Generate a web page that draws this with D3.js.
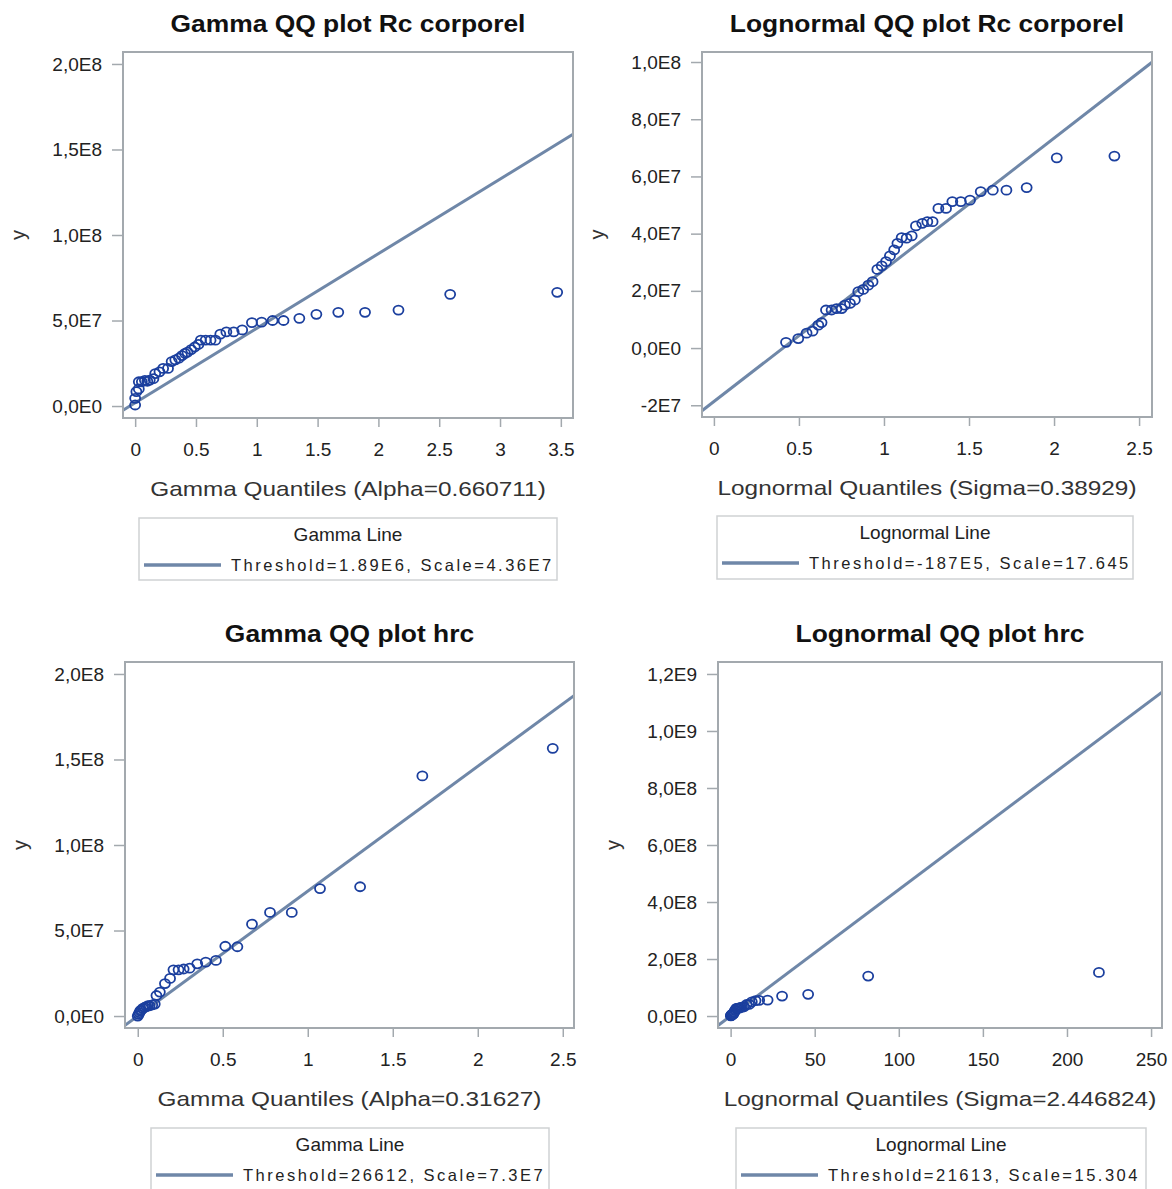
<!DOCTYPE html>
<html>
<head>
<meta charset="utf-8">
<script src="https://cdn.jsdelivr.net/npm/d3@7"></script>
<style>
  body { margin: 0; background: #fff; }
  text { font-family: "Liberation Sans", Arial, sans-serif; fill: #222; }
</style>
</head>
<body>
<svg id="chart" width="1172" height="1189"></svg>
<script>
// --- data (y values in E7 units) ---
const gammaRcQ = [0.00, 0.00, 0.01, 0.03, 0.03, 0.055, 0.08, 0.10, 0.12, 0.15, 0.165, 0.20, 0.23, 0.27, 0.30, 0.33, 0.36, 0.385, 0.41, 0.43, 0.46, 0.49, 0.52, 0.54, 0.58, 0.62, 0.66, 0.70, 0.75, 0.81, 0.88, 0.96, 1.04, 1.13, 1.22, 1.35, 1.49, 1.67, 1.89, 2.165, 2.59, 3.47];
const gammaRcY = [0.06, 0.45, 0.84, 1.00, 1.42, 1.42, 1.50, 1.45, 1.52, 1.60, 1.90, 2.00, 2.20, 2.20, 2.60, 2.70, 2.80, 2.95, 3.08, 3.15, 3.30, 3.45, 3.60, 3.85, 3.85, 3.85, 3.85, 4.20, 4.33, 4.33, 4.45, 4.88, 4.90, 5.00, 5.00, 5.13, 5.36, 5.48, 5.48, 5.61, 6.53, 6.65];

const lognRcQ = [0.424, 0.496, 0.545, 0.58, 0.614, 0.633, 0.659, 0.692, 0.721, 0.751, 0.77, 0.80, 0.829, 0.849, 0.878, 0.908, 0.933, 0.961, 0.987, 1.012, 1.035, 1.06, 1.079, 1.104, 1.133, 1.163, 1.188, 1.225, 1.255, 1.286, 1.32, 1.365, 1.402, 1.452, 1.506, 1.569, 1.64, 1.72, 1.839, 2.016, 2.355];
const lognRcY = [0.20, 0.33, 0.52, 0.59, 0.80, 0.89, 1.33, 1.33, 1.38, 1.38, 1.50, 1.56, 1.68, 1.97, 2.05, 2.20, 2.32, 2.75, 2.87, 3.02, 3.22, 3.43, 3.66, 3.86, 3.84, 3.92, 4.27, 4.36, 4.42, 4.42, 4.88, 4.88, 5.12, 5.12, 5.17, 5.47, 5.52, 5.52, 5.61, 6.65, 6.71];

const gammaHrcQ = [0.00, 0.005, 0.01, 0.015, 0.02, 0.03, 0.04, 0.05, 0.06, 0.07, 0.085, 0.10, 0.11, 0.13, 0.16, 0.19, 0.21, 0.24, 0.27, 0.305, 0.35, 0.40, 0.46, 0.515, 0.586, 0.672, 0.778, 0.906, 1.072, 1.308, 1.674, 2.441];
const gammaHrcY = [0.00, 0.10, 0.20, 0.30, 0.35, 0.45, 0.50, 0.55, 0.60, 0.60, 0.65, 0.70, 1.20, 1.40, 1.90, 2.20, 2.70, 2.70, 2.75, 2.80, 3.05, 3.15, 3.25, 4.08, 4.05, 5.37, 6.06, 6.06, 7.45, 7.56, 14.04, 15.65];

const lognHrcQ = [0.15, 0.3, 0.45, 0.6, 0.8, 1.0, 1.2, 1.4, 1.6, 1.9, 2.2, 2.6, 3.0, 3.4, 3.9, 4.5, 5.1, 5.9, 6.8, 8.0, 9.5, 11.0, 12.6, 14.8, 17.0, 22.0, 30.6, 46.1, 81.8, 219];
const lognHrcY = [0.05, 0.15, 0.30, 0.45, 0.50, 0.60, 0.65, 0.70, 0.75, 1.20, 1.40, 1.90, 2.20, 2.70, 2.70, 2.75, 2.80, 3.05, 3.15, 3.25, 4.05, 4.08, 5.00, 5.40, 5.50, 5.60, 7.00, 7.60, 14.00, 15.30];

// tick values and labels
const ticksY200 = [0, 5e7, 1e8, 1.5e8, 2e8];
const labelsY200 = ["0,0E0", "5,0E7", "1,0E8", "1,5E8", "2,0E8"];
const ticksY100 = [-2e7, 0, 2e7, 4e7, 6e7, 8e7, 1e8];
const labelsY100 = ["-2E7", "0,0E0", "2,0E7", "4,0E7", "6,0E7", "8,0E7", "1,0E8"];
const ticksY1200 = [0, 2e8, 4e8, 6e8, 8e8, 1e9, 1.2e9];
const labelsY1200 = ["0,0E0", "2,0E8", "4,0E8", "6,0E8", "8,0E8", "1,0E9", "1,2E9"];
const ticksX35 = [0, 0.5, 1, 1.5, 2, 2.5, 3, 3.5];
const ticksX25 = [0, 0.5, 1, 1.5, 2, 2.5];
const ticksX250 = [0, 50, 100, 150, 200, 250];

// fitted reference lines
const gammaRcLine = { threshold: 1.89e6, scale: 4.36e7 };
const lognRcLine = { threshold: -1.87e7, scale: Math.exp(17.645) };
const gammaHrcLine = { threshold: 26612, scale: 7.3e7 };
const lognHrcLine = { threshold: 21613, scale: Math.exp(15.304) };

const titles = ["Gamma QQ plot Rc corporel", "Lognormal QQ plot Rc corporel", "Gamma QQ plot hrc", "Lognormal QQ plot hrc"];
const xLabels = ["Gamma Quantiles (Alpha=0.660711)", "Lognormal Quantiles (Sigma=0.38929)", "Gamma Quantiles (Alpha=0.31627)", "Lognormal Quantiles (Sigma=2.446824)"];
const legendTitles = ["Gamma Line", "Lognormal Line", "Gamma Line", "Lognormal Line"];
const legendTexts = ["Threshold=1.89E6, Scale=4.36E7", "Threshold=-187E5, Scale=17.645", "Threshold=26612, Scale=7.3E7", "Threshold=21613, Scale=15.304"];

const lineColor = "#6f87a8";
const markColor = "#1b3f9e";
const frameColor = "#a3a9ae";
const fontFam = "'Liberation Sans', Arial, sans-serif";

const panels = [
  { xs: gammaRcQ, ys: gammaRcY, line: gammaRcLine, box: [123, 573, 52, 418], xDom: [-0.1, 3.6], yDom: [-7e6, 2.07e8],
    xTicks: ticksX35, yTicks: ticksY200, yLabels: labelsY200, legend: [139, 557, 518, 580] },
  { xs: lognRcQ, ys: lognRcY, line: lognRcLine, box: [702, 1152, 52, 417], xDom: [-0.07, 2.576], yDom: [-2.41e7, 1.035e8],
    xTicks: ticksX25, yTicks: ticksY100, yLabels: labelsY100, legend: [717, 1133, 516, 579] },
  { xs: gammaHrcQ, ys: gammaHrcY, line: gammaHrcLine, box: [125, 574, 662, 1028], xDom: [-0.075, 2.566], yDom: [-7e6, 2.07e8],
    xTicks: ticksX25, yTicks: ticksY200, yLabels: labelsY200, legend: [151, 549, 1128, 1190] },
  { xs: lognHrcQ, ys: lognHrcY, line: lognHrcLine, box: [718, 1162, 662, 1028], xDom: [-7.5, 256.5], yDom: [-4.2e7, 1.242e9],
    xTicks: ticksX250, yTicks: ticksY1200, yLabels: labelsY1200, legend: [736, 1146, 1128, 1190] }
];

const svg = d3.select("#chart");

// text drawn a little wider than the font, like the SAS output
function wideText(parent, x, y, sx, str) {
  return parent.append("text")
    .attr("transform", `translate(${x},${y}) scale(${sx},1)`)
    .attr("text-anchor", "middle")
    .text(str);
}

panels.forEach((p, i) => {
  const [x0, x1, y0, y1] = p.box;
  const x = d3.scaleLinear().domain(p.xDom).range([x0, x1]);
  const y = d3.scaleLinear().domain(p.yDom).range([y1, y0]);
  const g = svg.append("g");
  const midX = (x0 + x1) / 2;

  // title
  wideText(g, midX, y0 - 20, 1.1, titles[i])
    .style("font-size", "24px").style("font-weight", "bold").style("fill", "#111");

  g.append("clipPath").attr("id", "clip" + i)
    .append("rect").attr("x", x0).attr("y", y0).attr("width", x1 - x0).attr("height", y1 - y0);

  const plot = g.append("g").attr("clip-path", `url(#clip${i})`);

  // reference line
  const f = v => p.line.threshold + p.line.scale * v;
  plot.append("line")
    .attr("x1", x(p.xDom[0])).attr("y1", y(f(p.xDom[0])))
    .attr("x2", x(p.xDom[1])).attr("y2", y(f(p.xDom[1])))
    .attr("stroke", lineColor).attr("stroke-width", 3);

  // points
  plot.selectAll("ellipse")
    .data(p.xs.map((v, k) => [v, p.ys[k] * 1e7]))
    .join("ellipse")
    .attr("cx", d => x(d[0])).attr("cy", d => y(d[1]))
    .attr("rx", 5).attr("ry", 4.5)
    .attr("fill", "none").attr("stroke", markColor).attr("stroke-width", 1.8);

  // frame
  g.append("rect")
    .attr("x", x0).attr("y", y0).attr("width", x1 - x0).attr("height", y1 - y0)
    .attr("fill", "none").attr("stroke", frameColor).attr("stroke-width", 2);

  // y axis
  const yAxis = d3.axisLeft(y).tickValues(p.yTicks)
    .tickFormat((d, k) => p.yLabels[k]).tickSize(11).tickPadding(10);
  const ya = g.append("g").attr("transform", `translate(${x0},0)`).call(yAxis);
  ya.select(".domain").remove();
  ya.selectAll("line").attr("stroke", frameColor).attr("stroke-width", 1.5);
  ya.selectAll("text").style("font-size", "19px").attr("fill", "#333").style("font-family", fontFam);

  // x axis
  const xAxis = d3.axisBottom(x).tickValues(p.xTicks)
    .tickFormat(d3.format("")).tickSize(9).tickPadding(16);
  const xa = g.append("g").attr("transform", `translate(0,${y1})`).call(xAxis);
  xa.select(".domain").remove();
  xa.selectAll("line").attr("stroke", frameColor).attr("stroke-width", 1.5);
  xa.selectAll("text").style("font-size", "19px").attr("fill", "#333").style("font-family", fontFam);

  // axis labels
  wideText(g, midX, y1 + 78, 1.16, xLabels[i])
    .style("font-size", "21px").style("fill", "#333");
  g.append("text")
    .attr("transform", `translate(${x0 - 98},${(y0 + y1) / 2}) rotate(-90)`)
    .attr("text-anchor", "middle")
    .style("font-size", "20px").style("fill", "#333")
    .text("y");

  // legend
  const [lx0, lx1, ly0, ly1] = p.legend;
  g.append("rect")
    .attr("x", lx0).attr("y", ly0).attr("width", lx1 - lx0).attr("height", ly1 - ly0)
    .attr("fill", "none").attr("stroke", "#cfd2d4").attr("stroke-width", 1.5);
  g.append("text")
    .attr("x", (lx0 + lx1) / 2).attr("y", ly0 + 23)
    .attr("text-anchor", "middle")
    .style("font-size", "19px").style("fill", "#222")
    .text(legendTitles[i]);
  g.append("line")
    .attr("x1", lx0 + 5).attr("x2", lx0 + 82)
    .attr("y1", ly0 + 47).attr("y2", ly0 + 47)
    .attr("stroke", lineColor).attr("stroke-width", 3.5);
  g.append("text")
    .attr("x", lx0 + 92).attr("y", ly0 + 53)
    .style("font-size", "16.5px").style("letter-spacing", "2.5px").style("fill", "#222")
    .text(legendTexts[i]);
});
</script>
</body>
</html>
